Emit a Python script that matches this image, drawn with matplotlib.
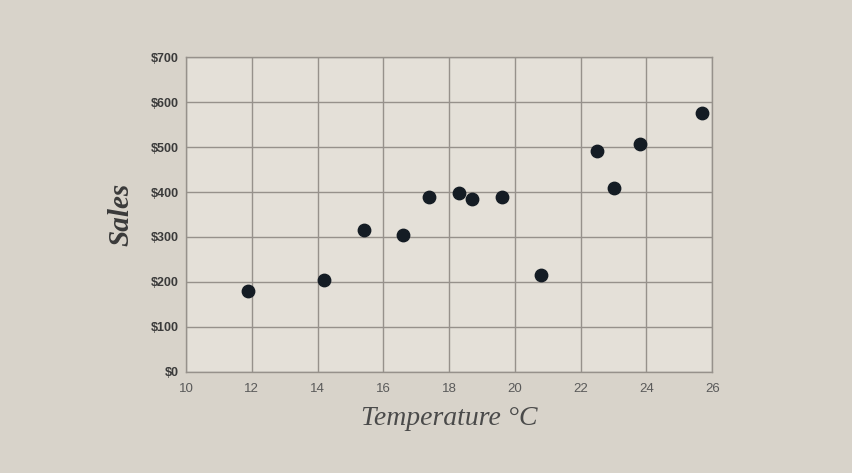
import numpy as np
import matplotlib.pyplot as plt
from matplotlib.ticker import FuncFormatter

# temperature vs sales
temperature = [11.9, 14.2, 15.4, 16.6, 17.4, 18.3, 18.7, 19.6, 20.8, 22.5, 23.0, 23.8, 25.7]
sales = [180, 205, 315, 305, 390, 398, 385, 388, 215, 492, 410, 508, 575]

x_ticks = np.arange(10, 27, 2)
y_ticks = np.arange(0, 701, 100)

fig = plt.figure(figsize=(8.53, 4.73), dpi=100)
fig.patch.set_facecolor('#d8d3ca')
ax = fig.add_axes([0.218, 0.214, 0.617, 0.665])
ax.set_facecolor('#e4e0d8')

ax.scatter(temperature, sales, s=80, color='#141c24', zorder=3)

ax.set_xlim(10, 26)
ax.set_ylim(0, 700)
ax.set_xticks(x_ticks)
ax.set_yticks(y_ticks)
ax.yaxis.set_major_formatter(FuncFormatter(lambda v, p: '$%d' % v))
ax.grid(True, color='#96918b', linewidth=1.0)
ax.set_axisbelow(True)
for s in ax.spines.values():
    s.set_color('#96918b')
    s.set_linewidth(1.0)
ax.tick_params(axis='y', length=0, pad=5)
ax.tick_params(axis='x', length=0, pad=8)
plt.setp(ax.get_yticklabels(), fontsize=9, color='#3a3a3a', fontweight='bold', family='Liberation Sans')
plt.setp(ax.get_xticklabels(), fontsize=9.5, color='#5a5a5a', family='Liberation Sans')

ax.set_xlabel('Temperature °C', fontsize=20, family='Liberation Serif', style='italic', color='#4a4a4a', labelpad=8)
ax.set_ylabel('Sales', fontsize=21, family='Liberation Serif', style='italic', fontweight='bold', color='#3a3a3a', labelpad=12)

plt.savefig('out.png', dpi=100, facecolor=fig.get_facecolor())
